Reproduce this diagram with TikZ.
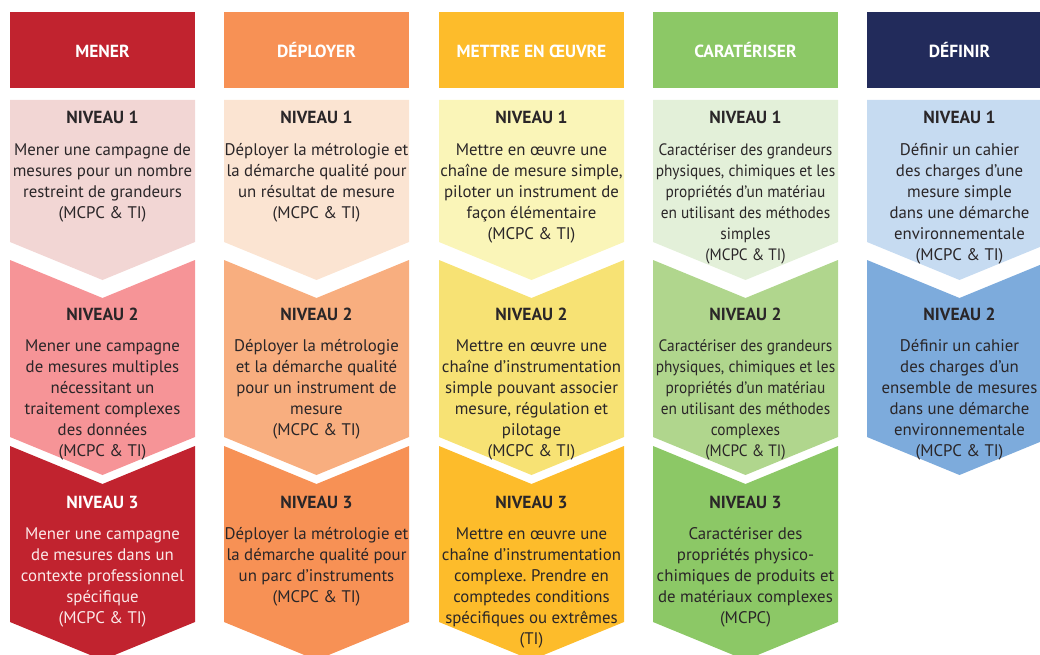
\documentclass[tikz,border=0pt]{standalone}
\usepackage{fontspec}
\setmainfont{PT Sans}
\newfontfamily\ptcond[FakeStretch=0.93]{PT Sans}
\frenchspacing
\definecolor{redH}{HTML}{C1232F}
\definecolor{redA}{HTML}{F2D6D4}
\definecolor{redB}{HTML}{F69497}
\definecolor{orH}{HTML}{F79155}
\definecolor{orA}{HTML}{FBE4D2}
\definecolor{orB}{HTML}{F8AE7F}
\definecolor{yeH}{HTML}{FDBC2B}
\definecolor{yeA}{HTML}{FAF5B8}
\definecolor{yeB}{HTML}{F7E274}
\definecolor{grH}{HTML}{8CC866}
\definecolor{grA}{HTML}{E3F0D9}
\definecolor{grB}{HTML}{B0D68D}
\definecolor{blH}{HTML}{222B5B}
\definecolor{blA}{HTML}{C6DBF1}
\definecolor{blB}{HTML}{7DABDC}
\definecolor{ink}{HTML}{2A2628}
\definecolor{paleink}{HTML}{FBE9E9}
\newcommand\lvlA[2]{\fill[#2] (#1,100) -- ++(185,0) -- ++(0,142) -- ++(-92.5,38) -- ++(-92.5,-38) -- cycle;}
\newcommand\lvlB[2]{\fill[#2] (#1,260) -- ++(92.5,38) -- ++(92.5,-38) -- ++(0,177) -- ++(-92.5,38) -- ++(-92.5,-38) -- cycle;}
\newcommand\lvlC[2]{\fill[#2] (#1,446) -- ++(92.5,38) -- ++(92.5,-38) -- ++(0,176) -- ++(-92.5,38) -- ++(-92.5,-38) -- cycle;}
\tikzset{
  headbox/.style={fill=#1, minimum width=185pt, minimum height=76pt, inner sep=0pt, anchor=north west},
  headtxt/.style={anchor=base, inner sep=0pt, text=white, font=\fontsize{17.5}{21}\selectfont\bfseries},
  lvltxt/.style={anchor=base, inner sep=0pt, text=ink, font=\fontsize{17.5}{21}\selectfont\bfseries},
  bodytxt/.style={anchor=north, align=center, inner sep=0pt, text=ink, font=\fontsize{16.8}{21}\selectfont},
  condtxt/.style={bodytxt, font=\fontsize{16.5}{21}\selectfont\ptcond},
}
\begin{document}
\begin{tikzpicture}[x=1pt,y=-1pt]
\useasboundingbox (0,0) rectangle (1040,655);
\clip (0,0) rectangle (1040,655);
% headers
\node[headbox=redH] (h1) at (10,12) {};
\node[headbox=orH] (h2) at (224,12) {};
\node[headbox=yeH] (h3) at (439,12) {};
\node[headbox=grH] (h4) at (653,12) {};
\node[headbox=blH] (h5) at (867,12) {};
\node[headtxt] (t1) at (102.5,58) {MENER};
\node[headtxt] (t2) at (316.5,58) {DÉPLOYER};
\node[headtxt] (t3) at (531.5,58) {METTRE EN ŒUVRE};
\node[headtxt] (t4) at (745.5,58) {CARATÉRISER};
\node[headtxt] (t5) at (959.5,58) {DÉFINIR};
% chevrons
\lvlA{10}{redA} \lvlB{10}{redB} \lvlC{10}{redH}
\lvlA{224}{orA} \lvlB{224}{orB} \lvlC{224}{orH}
\lvlA{439}{yeA} \lvlB{439}{yeB} \lvlC{439}{yeH}
\lvlA{653}{grA} \lvlB{653}{grB} \lvlC{653}{grH}
\lvlA{867}{blA} \lvlB{867}{blB}
% column 1
\node[lvltxt] (n11) at (102.5,123.5) {NIVEAU 1};
\node[bodytxt] (b11) at (102.5,140.3) {\strut Mener une campagne de\\mesures pour un nombre\\restreint de grandeurs\\(MCPC \& TI)};
\node[lvltxt] (n12) at (102.5,320) {NIVEAU 2};
\node[bodytxt] (b12) at (102.5,336.3) {\strut Mener une campagne\\de mesures multiples\\nécessitant un\\traitement complexes\\des données\\(MCPC \& TI)};
\node[lvltxt, text=white] (n13) at (102.5,508) {NIVEAU 3};
\node[bodytxt, text=paleink] (b13) at (102.5,524.3) {\strut Mener une campagne\\de mesures dans un\\contexte professionnel\\spécifique\\(MCPC \& TI)};
% column 2
\node[lvltxt] (n21) at (316.5,123.5) {NIVEAU 1};
\node[bodytxt] (b21) at (316.5,140.3) {\strut Déployer la métrologie et\\la démarche qualité pour\\un résultat de mesure\\(MCPC \& TI)};
\node[lvltxt] (n22) at (316.5,320) {NIVEAU 2};
\node[bodytxt] (b22) at (316.5,336.3) {\strut Déployer la métrologie\\et la démarche qualité\\pour un instrument de\\mesure\\(MCPC \& TI)};
\node[lvltxt] (n23) at (316.5,508) {NIVEAU 3};
\node[bodytxt] (b23) at (316.5,524.3) {\strut Déployer la métrologie et\\la démarche qualité pour\\un parc d’instruments\\(MCPC \& TI)};
% column 3
\node[lvltxt] (n31) at (531.5,123.5) {NIVEAU 1};
\node[bodytxt] (b31) at (531.5,140.3) {\strut Mettre en œuvre une\\chaîne de mesure simple,\\piloter un instrument de\\façon élémentaire\\(MCPC \& TI)};
\node[lvltxt] (n32) at (531.5,320) {NIVEAU 2};
\node[bodytxt] (b32) at (531.5,336.3) {\strut Mettre en œuvre une\\chaîne d’instrumentation\\simple pouvant associer\\mesure, régulation et\\pilotage\\(MCPC \& TI)};
\node[lvltxt] (n33) at (531.5,508) {NIVEAU 3};
\node[bodytxt] (b33) at (531.5,524.3) {\strut Mettre en œuvre une\\chaîne d’instrumentation\\complexe. Prendre en\\comptedes conditions\\spécifiques ou extrêmes\\(TI)};
% column 4
\node[lvltxt] (n41) at (745.5,123.5) {NIVEAU 1};
\node[condtxt] (b41) at (745.5,140.3) {\strut Caractériser des grandeurs\\physiques, chimiques et les\\propriétés d’un matériau\\en utilisant des méthodes\\simples\\(MCPC \& TI)};
\node[lvltxt] (n42) at (745.5,320) {NIVEAU 2};
\node[condtxt] (b42) at (745.5,336.3) {\strut Caractériser des grandeurs\\physiques, chimiques et les\\propriétés d’un matériau\\en utilisant des méthodes\\complexes\\(MCPC \& TI)};
\node[lvltxt] (n43) at (745.5,508) {NIVEAU 3};
\node[bodytxt] (b43) at (745.5,524.3) {\strut Caractériser des\\propriétés physico-\\chimiques de produits et\\de matériaux complexes\\(MCPC)};
% column 5
\node[lvltxt] (n51) at (959.5,123.5) {NIVEAU 1};
\node[bodytxt] (b51) at (959.5,140.3) {\strut Définir un cahier\\des charges d’une\\mesure simple\\dans une démarche\\environnementale\\(MCPC \& TI)};
\node[lvltxt] (n52) at (959.5,320) {NIVEAU 2};
\node[bodytxt] (b52) at (959.5,336.3) {\strut Définir un cahier\\des charges d’un\\ensemble de mesures\\dans une démarche\\environnementale\\(MCPC \& TI)};
\end{tikzpicture}
\end{document}
